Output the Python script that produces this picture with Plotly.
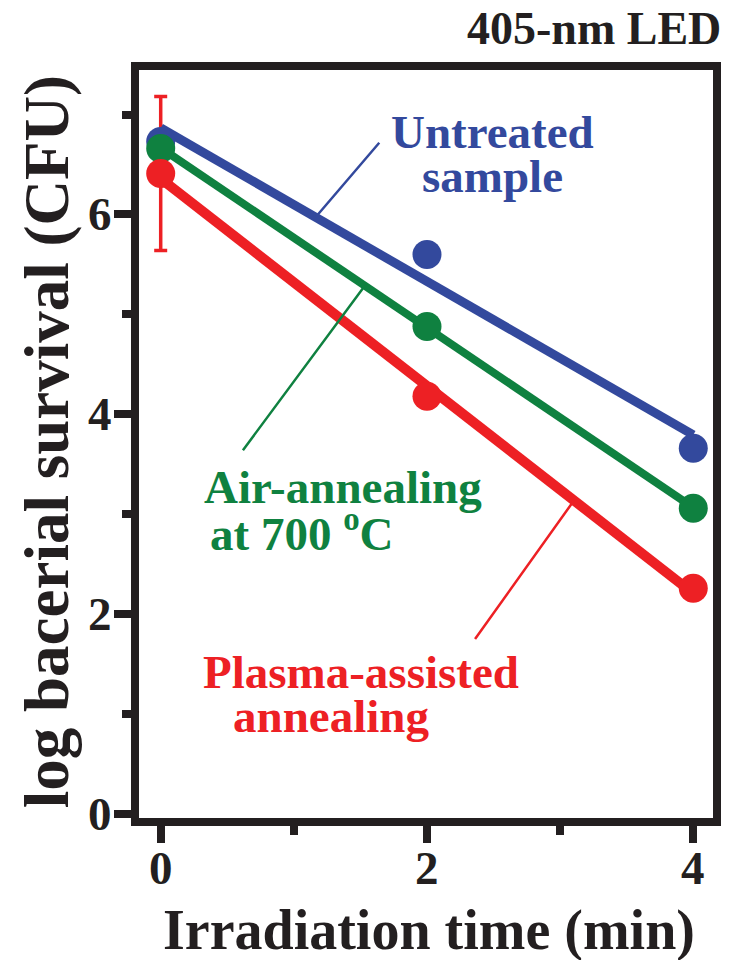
import numpy as np
import plotly.graph_objects as go

# ---- data ----
time_min = [0, 2, 4]
untreated = [6.73, 5.60, 3.66]
air_700 = [6.66, 4.88, 3.06]
plasma = [6.41, 4.18, 2.26]
plasma_err0 = 0.77  # error bar at t = 0

x_ticks = [0, 2, 4]
y_ticks = [0, 2, 4, 6]

BLUE = "#33499d"
GREEN = "#0f8140"
RED = "#ed2024"
BLACK = "#231f20"
FONT = "Liberation Serif"

W, H = 731, 960
L, R, T, B = 139, 721, 70, 818  # plot area in pixels


def px(X):
    return (X - L) / (R - L)


def py(Y):
    return (B - Y) / (B - T)


fig = go.Figure()

# error bar for the plasma-treated sample at t=0 (drawn first, under lines)
fig.add_trace(go.Scatter(
    x=[time_min[0]], y=[plasma[0]], mode="markers",
    marker=dict(size=1, color="rgba(0,0,0,0)"),
    error_y=dict(type="data", array=[plasma_err0], color=RED, thickness=3.5, width=6.5),
    showlegend=False, hoverinfo="skip"))

series = [
    (untreated, BLUE, 9),
    (air_700, GREEN, 8),
    (plasma, RED, 10),
]
xfit = np.array([min(time_min), max(time_min)], dtype=float)
fits = []
for ys, col, lw in series:
    k, b0 = np.polyfit(time_min, ys, 1)
    fits.append((k, b0))
    fig.add_trace(go.Scatter(x=xfit, y=k * xfit + b0, mode="lines",
                             line=dict(color=col, width=lw),
                             showlegend=False, hoverinfo="skip"))
    fig.add_trace(go.Scatter(x=time_min, y=ys, mode="markers",
                             marker=dict(color=col, size=29),
                             showlegend=False))

axis_common = dict(
    showline=True, linewidth=8, linecolor=BLACK, mirror=True,
    ticks="outside", ticklen=17, tickwidth=8, tickcolor=BLACK,
    showgrid=False, zeroline=False, showticklabels=False,
)
minor_common = dict(dtick=1, tick0=0, ticks="outside", ticklen=9, tickwidth=8,
                    tickcolor=BLACK, showgrid=False)

fig.update_xaxes(range=[(L - 161) / 135, (R - 161) / 135], tickvals=x_ticks,
                 minor=minor_common, **axis_common)
fig.update_yaxes(range=[-(822 - B) / 101, (822 - T) / 101], tickvals=y_ticks,
                 minor=minor_common, **axis_common)

ann = []
TICKFONT = dict(family=FONT, size=47, color=BLACK, weight="bold")

# tick labels placed close to the ticks, as in the reference
for v in y_ticks:
    ann.append(dict(text=str(v), x=px(114), y=v, xref="paper", yref="y",
                    showarrow=False, font=TICKFONT, xanchor="right", yanchor="middle"))
for v in x_ticks:
    ann.append(dict(text=str(v), x=v, y=py(868), xref="x", yref="paper",
                    showarrow=False, font=TICKFONT, xanchor="center", yanchor="middle"))


def text(s, X, Y, color, size=47, angle=0):
    ann.append(dict(text=s, x=px(X), y=py(Y), xref="paper", yref="paper",
                    showarrow=False, textangle=angle,
                    font=dict(family=FONT, size=size, color=color, weight="bold"),
                    xanchor="center", yanchor="middle"))


text("405-nm LED", 600, 29, BLACK, 46)
text("Irradiation time (min)", 433, 930, BLACK, 56)
text("log bacerial survival (CFU)", 46, 442, BLACK, 63, -90)
text("Untreated", 497, 132, BLUE)
text("sample", 497, 176, BLUE)
text("Air-annealing", 346, 487, GREEN)
text("at 700 <sup>o</sup>C", 304, 530, GREEN)
text("Plasma-assisted", 364, 672, RED)
text("annealing", 334, 716, RED)

# pointer lines from labels to the fitted lines
pointers = [(0, 1.163, 65, -76), (1, 1.533, -123, 166), (2, 3.104, -100, 140)]
for idx, xt, axo, ayo in pointers:
    k, b0 = fits[idx]
    ann.append(dict(x=xt, y=k * xt + b0, xref="x", yref="y", text="",
                    showarrow=True, arrowhead=0, arrowwidth=2.5,
                    arrowcolor=series[idx][1], ax=axo, ay=ayo, standoff=0))

fig.update_layout(
    width=W, height=H, autosize=False,
    margin=dict(l=L, r=W - R, t=T, b=H - B),
    paper_bgcolor="white", plot_bgcolor="white",
    annotations=ann, showlegend=False,
)

fig.write_html("out.html")
